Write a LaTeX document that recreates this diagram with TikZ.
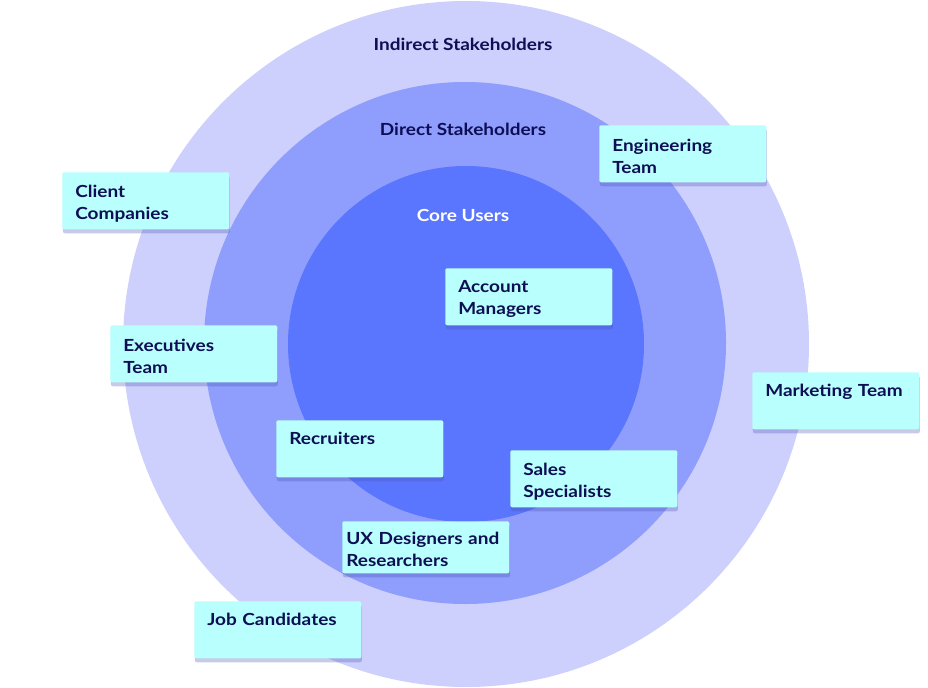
\documentclass[tikz,border=0pt]{standalone}
\usepackage{fontspec}
\setmainfont{Lato}[FakeStretch=1.14]
\usetikzlibrary{shadows}
\definecolor{ringout}{HTML}{CDD0FD}
\definecolor{ringmid}{HTML}{8F9EFC}
\definecolor{ringin}{HTML}{5A76FE}
\definecolor{cardfill}{HTML}{B8FFFD}
\definecolor{ink}{HTML}{0E0E55}
\definecolor{shade}{HTML}{4A4FB0}

\begin{document}
\begin{tikzpicture}[x=0.75pt,y=-0.75pt,
    card/.style={anchor=north west,rectangle,rounded corners=1.5pt,fill=cardfill,text=ink,
      font=\bfseries\fontsize{12.5}{16.5}\selectfont,align=left,
      text width=105.75pt,inner xsep=9.75pt,inner ysep=3pt,minimum height=42.75pt,
      execute at begin node=\rule{0pt}{13pt},
      drop shadow={shadow xshift=0.5pt,shadow yshift=-3pt,opacity=0.3,fill=shade}},
    oneline/.style={text depth=19.5pt},
    ringlabel/.style={text=ink,font=\bfseries\fontsize{12.5}{14}\selectfont}]
  \useasboundingbox (0,0) rectangle (928,688);
  % rings
  \fill[ringout] (466,344) circle[radius=343];
  \fill[ringmid] (465,343) circle[radius=261];
  \fill[ringin] (466,344) circle[radius=178];
  \node[ringlabel] (indirect) at (463,44) {Indirect Stakeholders};
  \node[ringlabel] (direct) at (463,129) {Direct Stakeholders};
  \node[ringlabel,text=white] (core) at (463,215) {Core Users};
  % stakeholder cards
  \node[card] (client) at (62,172) {Client\\Companies};
  \node[card] (eng) at (599,125) {Engineering\\Team};
  \node[card] (acct) at (445,268) {Account\\Managers};
  \node[card] (exec) at (110,325) {Executives\\Team};
  \node[card,oneline] (mkt) at (752,372) {Marketing Team};
  \node[card,oneline] (rec) at (276,420) {Recruiters};
  \node[card] (sales) at (510,450) {Sales\\Specialists};
  \node[card,inner xsep=3pt,text width=119.25pt,minimum height=39pt] (ux) at (342,521) {UX Designers and\\Researchers};
  \node[card,oneline] (job) at (194,601) {Job Candidates};
\end{tikzpicture}
\end{document}
